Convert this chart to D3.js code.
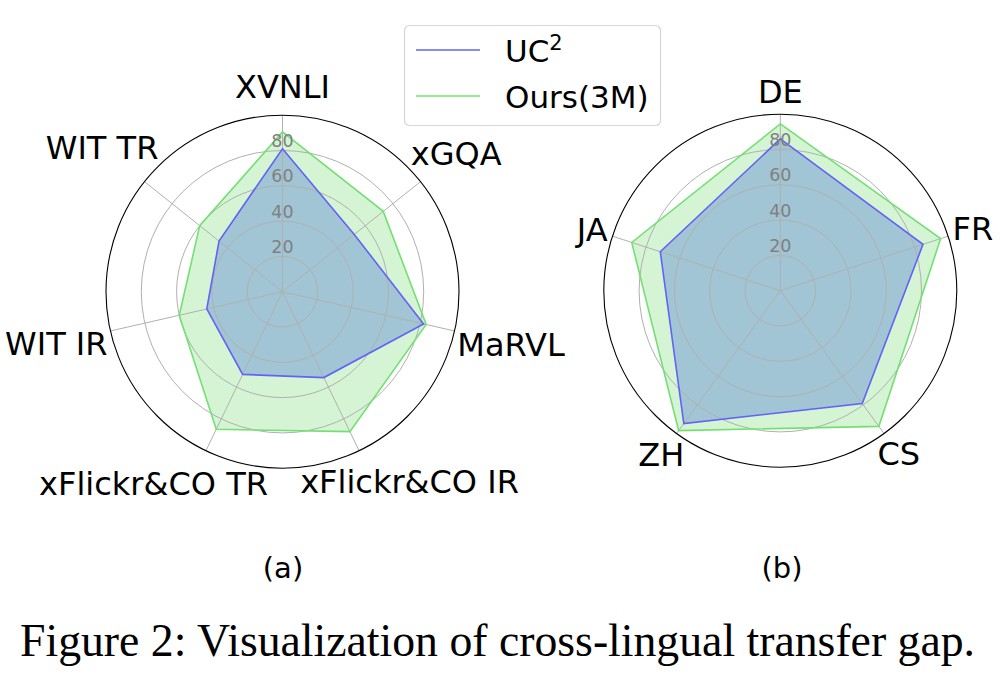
<!DOCTYPE html>
<html><head><meta charset="utf-8">
<script src="https://cdn.jsdelivr.net/npm/d3@7"></script>
<style>html,body{margin:0;padding:0;background:#fff;} svg{display:block;}</style>
</head><body>
<svg id="c" width="1000" height="680"></svg>
<script>
// ---- data ----
const categoriesA = ["XVNLI", "xGQA", "MaRVL", "xFlickr&CO IR", "xFlickr&CO TR", "WIT IR", "WIT TR"];
const uc2A  = [81, 52, 82, 54, 52, 44, 46];
const oursA = [90.5, 73, 83.5, 88, 86.5, 60, 60];
const categoriesB = ["DE", "FR", "CS", "ZH", "JA"];
const uc2B  = [86, 85, 79, 93, 71.5];
const oursB = [94.5, 95.5, 95, 98, 88.5];
const ringTicks = [20, 40, 60, 80];
const seriesNames = ["UC", "Ours(3M)"];
const panelLabels = ["(a)", "(b)"];
const captionText = "Figure 2: Visualization of cross-lingual transfer gap.";

// ---- styles ----
const C_UC = "#6262f6", C_OURS = "#74e074";
const FILL_OURS = "rgba(122,222,122,0.32)";
const FILL_UC = "rgba(96,134,216,0.43)";
const FONT = "'DejaVu Sans', sans-serif";
const LABEL_SIZE = 32;

const svg = d3.select("#c");
const R = 176.5;
const rScale = d3.scaleLinear().domain([0, 100]).range([0, R]);

function radar(cx, cy, cats, s1, s2, nudge) {
  const n = cats.length;
  const ang = d3.scaleLinear().domain([0, n]).range([0, 2 * Math.PI]);
  const g = svg.append("g").attr("transform", `translate(${cx},${cy})`);
  const area = d3.lineRadial().angle((d, i) => ang(i)).radius(d => rScale(d)).curve(d3.curveLinearClosed);

  // fills (below grid, as in matplotlib)
  g.append("path").datum(s2).attr("d", area).attr("fill", FILL_OURS).attr("stroke", "none");
  g.append("path").datum(s1).attr("d", area).attr("fill", FILL_UC).attr("stroke", "none");

  // grid rings
  g.selectAll("circle.ring").data(ringTicks).join("circle").attr("class", "ring")
    .attr("r", d => rScale(d)).attr("fill", "none").attr("stroke", "#b0b0b0").attr("stroke-width", 1);
  // spokes
  g.selectAll("line.spoke").data(cats).join("line").attr("class", "spoke")
    .attr("x1", 0).attr("y1", 0)
    .attr("x2", (d, i) => rScale(100) * Math.sin(ang(i)))
    .attr("y2", (d, i) => -rScale(100) * Math.cos(ang(i)))
    .attr("stroke", "#b0b0b0").attr("stroke-width", 1);
  // outer circle
  g.append("circle").attr("r", rScale(100)).attr("fill", "none").attr("stroke", "#000").attr("stroke-width", 1.1);

  // series outlines
  g.append("path").datum(s1).attr("d", area).attr("fill", "none").attr("stroke", C_UC).attr("stroke-width", 1.6);
  g.append("path").datum(s2).attr("d", area).attr("fill", "none").attr("stroke", C_OURS).attr("stroke-width", 1.6);

  // radial tick labels
  g.selectAll("text.rt").data(ringTicks).join("text").attr("class", "rt")
    .attr("x", 0).attr("y", d => -rScale(d) - 9.5 + 6)
    .attr("text-anchor", "middle").attr("font-family", FONT).attr("font-size", 17.5)
    .attr("fill", "#808080").text(d => d);

  // category labels
  const capH = LABEL_SIZE * 0.729;
  g.selectAll("text.cat").data(cats).join("text").attr("class", "cat")
    .attr("font-family", FONT).attr("font-size", LABEL_SIZE).attr("fill", "#000")
    .attr("text-anchor", "middle").text(d => d)
    .each(function (d, i) {
      const w = this.getComputedTextLength();
      const a = ang(i), s = Math.sin(a), c = Math.cos(a);
      const ext = (w / 2) * Math.abs(s) + (capH / 2) * Math.abs(c);
      const D = rScale(100) + 3 + ext;
      const nd = nudge[d] || [0, 0];
      const x = D * s + nd[0], y = -D * c + nd[1];
      d3.select(this).attr("x", x).attr("y", y + capH / 2);
    });
}

radar(282.5, 291.7, categoriesA, uc2A, oursA, {
  "XVNLI": [0, -14], "xFlickr&CO IR": [24, -24], "xFlickr&CO TR": [-25, -24]
});
radar(780.3, 290.7, categoriesB, uc2B, oursB, { "DE": [0, -8] });

// legend
const lg = svg.append("g");
lg.append("rect").attr("x", 404.5).attr("y", 25.5).attr("width", 256).attr("height", 100)
  .attr("rx", 5).attr("fill", "#fff").attr("fill-opacity", 0.8).attr("stroke", "#d6d6d6").attr("stroke-width", 1.2);
const legColors = [C_UC, C_OURS];
seriesNames.forEach((nm, i) => {
  const y = 50 + i * 46;
  lg.append("line").attr("x1", 416).attr("x2", 480).attr("y1", y).attr("y2", y)
    .attr("stroke", legColors[i]).attr("stroke-width", 1.6);
  const t = lg.append("text").attr("x", 505).attr("y", y + 11.5)
    .attr("font-family", FONT).attr("font-size", 31).attr("fill", "#000").text(nm);
  if (i === 0) t.append("tspan").attr("dy", -12).attr("font-size", 21).text("2");
});

// panel labels
[[283, panelLabels[0]], [782, panelLabels[1]]].forEach(([x, t]) => {
  svg.append("text").attr("x", x).attr("y", 578).attr("text-anchor", "middle")
    .attr("font-family", FONT).attr("font-size", 29).attr("fill", "#000").text(t);
});

// caption
svg.append("text").attr("x", 20).attr("y", 656)
  .attr("font-family", "'Liberation Serif', 'Times New Roman', serif").attr("font-size", 46)
  .attr("textLength", 955).attr("lengthAdjust", "spacingAndGlyphs")
  .attr("fill", "#000").text(captionText);
</script>
</body></html>
